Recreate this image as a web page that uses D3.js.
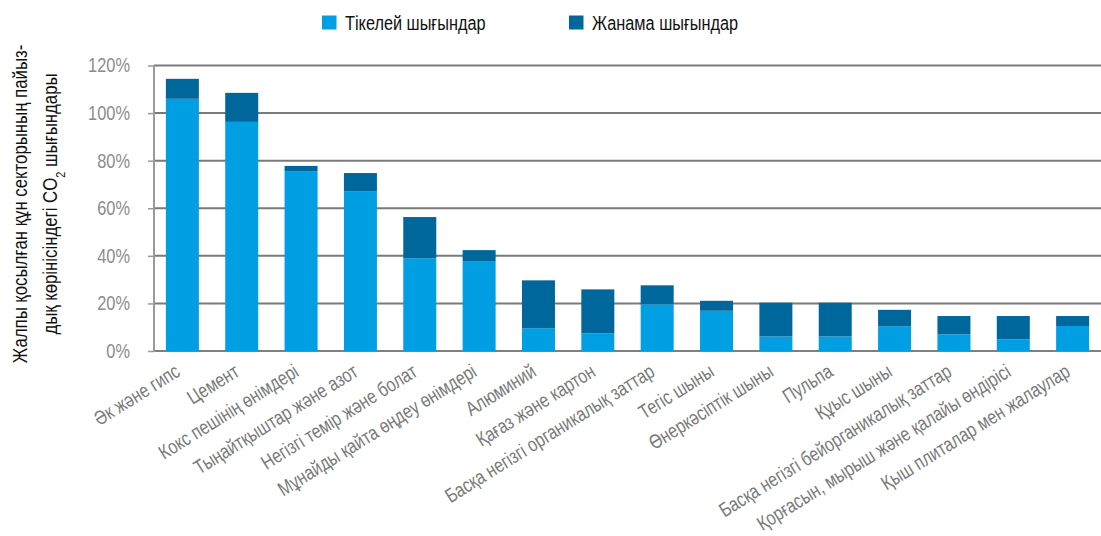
<!DOCTYPE html>
<html>
<head>
<meta charset="utf-8">
<script src="https://cdn.jsdelivr.net/npm/d3@7"></script>
<style>
  body { margin: 0; background: #fff; }
  svg { display: block; font-family: "Liberation Sans", "DejaVu Sans", sans-serif; }
</style>
</head>
<body>
<div id="chart"></div>
<script>
// sectors, left to right
const sectors = [
    "Әк және гипс",
    "Цемент",
    "Кокс пешінің өнімдері",
    "Тыңайтқыштар және азот",
    "Негізгі темір және болат",
    "Мұнайды қайта өңдеу өнімдері",
    "Алюминий",
    "Қағаз және картон",
    "Басқа негізгі органикалық заттар",
    "Тегіс шыны",
    "Өнеркәсіптік шыны",
    "Пульпа",
    "Құыс шыны",
    "Басқа негізгі бейорганикалық заттар",
    "Қорғасын, мырыш және қалайы өндірісі",
    "Қыш плиталар мен жалаулар"
];

// direct emissions, % of GVA
const direct = [106.0, 96.3, 75.6, 67.2, 39.0, 37.8, 9.6, 7.4, 19.6, 16.9, 6.1, 6.1, 10.4, 7.0, 4.9, 10.5];
// indirect emissions, % of GVA (stacked on top)
const indirect = [8.4, 12.2, 2.2, 7.6, 17.3, 4.6, 20.1, 18.5, 8.0, 4.2, 14.2, 14.2, 6.9, 7.7, 9.8, 4.2];

const yTicks = [0, 20, 40, 60, 80, 100, 120];

const seriesNames = ["Тікелей шығындар", "Жанама шығындар"];
const seriesColors = ["#009fe3", "#00679c"];

function drawChart() {
    const width = 1101, height = 536;

    const svg = d3.select("#chart")
        .append("svg")
        .attr("width", width)
        .attr("height", height);

    const x = d3.scaleBand()
        .domain(sectors)
        .range([154, 1101])
        .paddingInner(0.444)
        .paddingOuter(0.2);

    const y = d3.scaleLinear()
        .domain([0, 120])
        .range([351, 65.5]);

    // gridlines + ticks
    // (no condensed face installed, so text is squeezed with scale(k,1))
    const yAxis = svg.append("g")
        .attr("transform", "translate(154,0)")
        .call(d3.axisLeft(y).tickValues(yTicks).tickSize(6).tickFormat(d => d + "%"));
    yAxis.select(".domain").remove();
    yAxis.selectAll(".tick line").attr("stroke", "#999").attr("stroke-width", 1.5);
    yAxis.selectAll(".tick text")
        .attr("x", -24 / 0.82)
        .attr("transform", "scale(0.82,1)")
        .attr("fill", "#8c8c8c")
        .style("font-size", "20px");

    svg.append("g")
        .selectAll("line")
        .data(yTicks)
        .enter()
        .append("line")
        .attr("x1", 154)
        .attr("x2", width)
        .attr("y1", d => y(d))
        .attr("y2", d => y(d))
        .attr("stroke", d => d === 0 ? "#808080" : "#7a7a7a")
        .attr("stroke-width", 2);

    // stacked bars
    const rows = sectors.map((s, i) => ({ sector: s, direct: direct[i], indirect: indirect[i] }));
    const stack = d3.stack().keys(["direct", "indirect"]);
    const layers = stack(rows);

    svg.append("g")
        .selectAll("g")
        .data(layers)
        .enter()
        .append("g")
        .attr("fill", (d, i) => seriesColors[i])
        .selectAll("rect")
        .data(d => d)
        .enter()
        .append("rect")
        .attr("x", d => x(d.data.sector))
        .attr("width", x.bandwidth())
        .attr("y", d => y(d[1]))
        .attr("height", d => y(d[0]) - y(d[1]));

    // vertical axis line
    svg.append("line")
        .attr("x1", 154).attr("x2", 154)
        .attr("y1", 65.5).attr("y2", 352)
        .attr("stroke", "#9a9a9a")
        .attr("stroke-width", 2);

    // x labels, rotated
    svg.append("g")
        .selectAll("text")
        .data(sectors)
        .enter()
        .append("text")
        .attr("transform", d => `translate(${x(d) + x.bandwidth() / 2 - 1},375) rotate(-32) scale(0.8,1)`)
        .attr("text-anchor", "end")
        .attr("fill", "#7a7a7a")
        .style("font-size", "20px")
        .text(d => d);

    // y axis title
    const title = svg.append("text")
        .attr("transform", "translate(0,204) rotate(-90) scale(0.84,1)")
        .attr("text-anchor", "middle")
        .attr("fill", "#111")
        .style("font-size", "20px");
    title.append("tspan").attr("x", 0).attr("y", 27)
        .text("Жалпы қосылған құн секторының пайыз-");
    title.append("tspan").attr("x", 0).attr("y", 57).text("дық көрінісіндегі CO");
    title.append("tspan").attr("baseline-shift", "sub").style("font-size", "13px").text("2");
    title.append("tspan").text(" шығындары");

    // legend
    const legendX = [322, 569];
    const legend = svg.append("g")
        .selectAll("g")
        .data(seriesNames)
        .enter()
        .append("g")
        .attr("transform", (d, i) => `translate(${legendX[i]},15.5)`);
    legend.append("rect")
        .attr("width", 14.5)
        .attr("height", 14)
        .attr("fill", (d, i) => seriesColors[i]);
    legend.append("text")
        .attr("transform", "translate(23,14) scale(0.815,1)")
        .attr("fill", "#111")
        .style("font-size", "20px")
        .text(d => d);
}

document.addEventListener('DOMContentLoaded', drawChart);
</script>
</body>
</html>
